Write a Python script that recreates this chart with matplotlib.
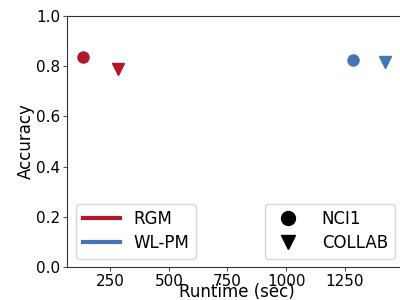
import matplotlib
matplotlib.use('Agg')
import matplotlib.pyplot as plt
from matplotlib.lines import Line2D

methods = ['RGM', 'WL-PM']
colors = ['#b2182b', '#4575b4']
datasets = ['NCI1', 'COLLAB']
markers = ['o', 'v']
# runtime (sec) per method, per dataset
runtime = {'RGM': [135, 284], 'WL-PM': [1284, 1421]}
accuracy = {'RGM': [0.837, 0.790], 'WL-PM': [0.825, 0.815]}

fig = plt.figure(figsize=(4, 3), dpi=100)
ax = fig.add_axes([67/400, 33/300, 340/400, 251/300])

for m, c in zip(methods, colors):
    for i, d in enumerate(datasets):
        ax.plot(runtime[m][i], accuracy[m][i], marker=markers[i], color=c,
                markersize=8, linestyle='none')

ax.set_xlim(66, 1515)
ax.set_ylim(0, 1.0)
ax.set_xticks([250, 500, 750, 1000, 1250])
ax.set_yticks([0.0, 0.2, 0.4, 0.6, 0.8, 1.0])
ax.tick_params(labelsize=11, length=3, color='#555555', pad=2)
for s in ['left', 'bottom', 'top']:
    ax.spines[s].set_color('#333333')
ax.spines['right'].set_visible(False)
ax.set_xlabel('Runtime (sec)', fontsize=12, labelpad=-4)
ax.set_ylabel('Accuracy', fontsize=12, labelpad=0.5)

h1 = [Line2D([], [], color=c, lw=3) for c in colors]
leg1 = ax.legend(h1, methods, loc='lower left', fontsize=12, handlelength=2.2,
                 handletextpad=0.8, labelspacing=0.35, bbox_to_anchor=(0.003, 0.0))
ax.add_artist(leg1)
h2 = [Line2D([], [], color='black', marker=mk, linestyle='none', markersize=10) for mk in markers]
ax.legend(h2, datasets, loc='lower right', fontsize=12, handletextpad=1.0,
          labelspacing=0.35, bbox_to_anchor=(0.988, 0.0))

fig.savefig('out.png', dpi=100)
